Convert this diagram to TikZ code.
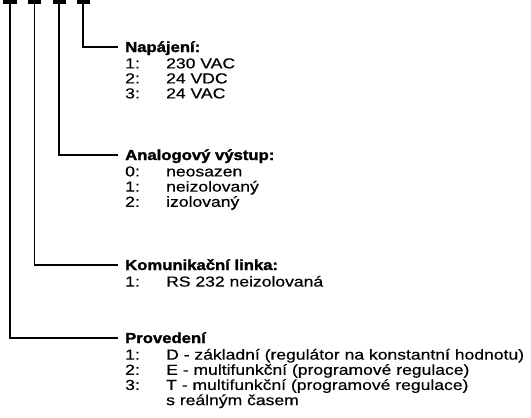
\documentclass[tikz,border=0pt]{standalone}
\usepackage{fontspec}
\setmainfont{Liberation Sans}[FakeStretch=1.21,FakeBold=0.5,BoldFeatures={FakeStretch=1.15,FakeBold=1.8}]
\usetikzlibrary{positioning}
\tikzset{
  bar/.style={fill=black, minimum width=13bp, minimum height=4bp, inner sep=0pt, anchor=north},
  head/.style={anchor=west, inner sep=0pt, text height=10bp, text depth=0pt, font=\fontsize{14.5bp}{15bp}\selectfont\bfseries},
  items/.style={inner sep=0pt, font=\fontsize{14.5bp}{15bp}\selectfont},
  wire/.style={line width=1.1bp, shorten >=7bp}
}
\newcommand{\opts}[1]{\begin{tabular}{@{}p{41bp}@{}l@{}}#1\end{tabular}}

\begin{document}
\begin{tikzpicture}[x=1bp,y=1bp]
\useasboundingbox (0,0) rectangle (531,-417);
% code positions
\node[bar] (b1) at (10,0) {};
\node[bar] (b2) at (34.5,0) {};
\node[bar] (b3) at (59,0) {};
\node[bar] (b4) at (83,0) {};
% headings
\node[head] (t4) at (125,-47) {Napájení:};
\node[head] (t3) at (125,-155) {Analogový výstup:};
\node[head] (t2) at (125,-265) {Komunikační linka:};
\node[head] (t1) at (125,-338) {Provedení};
% options
\node[items, below=5.5bp of t4.south west, anchor=north west] (l4)
  {\opts{1: & 230 VAC\\ 2: & 24 VDC\\ 3: & 24 VAC}};
\node[items, below=5.5bp of t3.south west, anchor=north west] (l3)
  {\opts{0: & neosazen\\ 1: & neizolovaný\\ 2: & izolovaný}};
\node[items, below=5.5bp of t2.south west, anchor=north west] (l2)
  {\opts{1: & RS 232 neizolovaná}};
\node[items, below=5.5bp of t1.south west, anchor=north west] (l1)
  {\opts{1: & D - základní (regulátor na konstantní hodnotu)\\
    2: & E - multifunkční (programové regulace)\\
    3: & T - multifunkční (programové regulace)\\
    & s reálným časem}};
% leaders
\draw[wire] (b4.south) |- (t4.west);
\draw[wire] (b3.south) |- (t3.west);
\draw[wire] (b2.south) |- (t2.west);
\draw[wire] (b1.south) |- (t1.west);
\end{tikzpicture}
\end{document}
